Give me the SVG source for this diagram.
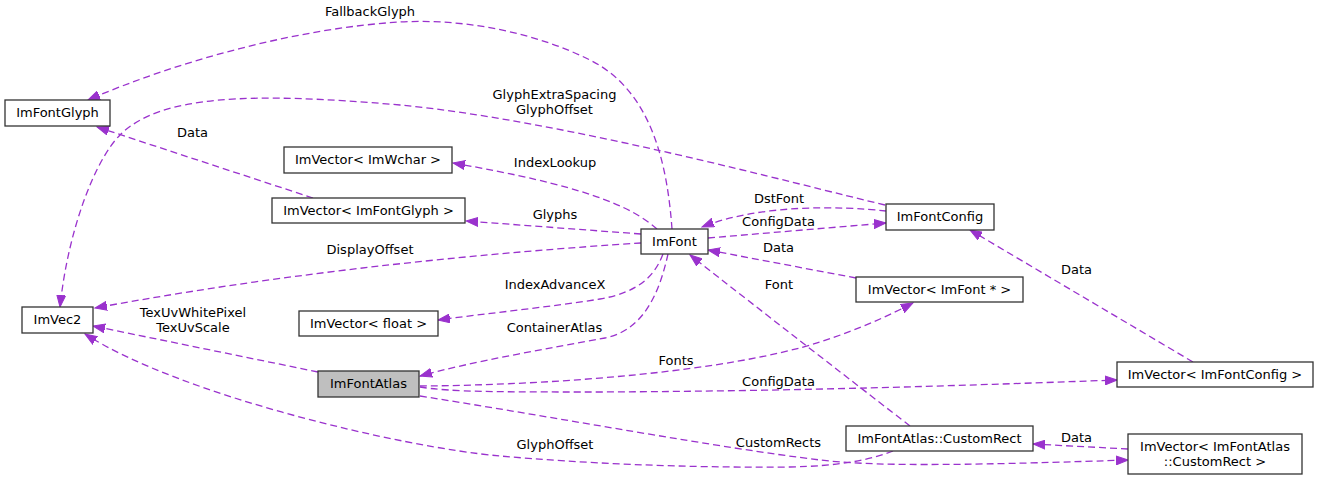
<svg xmlns="http://www.w3.org/2000/svg" width="1319" height="481" viewBox="0 0 1319 481">
  <defs>
    <style>
      .node rect { fill: #ffffff; stroke: #333333; stroke-width: 1.3; }
      .node.current rect { fill: #bfbfbf; }
      .node text, .label { font-family: "DejaVu Sans", "Liberation Sans", sans-serif; font-size: 13px; fill: #000000; text-anchor: middle; }
      .edge { fill: none; stroke: #9a32cd; stroke-width: 1.3; stroke-dasharray: 7,4; marker-end: url(#arrow); }
    </style>
    <marker id="arrow" markerUnits="userSpaceOnUse" markerWidth="13" markerHeight="10" refX="12" refY="5" orient="auto">
      <path d="M0,0.5 L12,5 L0,9.5 Z" fill="#9a32cd" stroke="#9a32cd" stroke-width="1"/>
    </marker>
  </defs>
  <rect width="1319" height="481" fill="#ffffff"/>

  <!-- connectors -->
  <g id="connectors">
    <path class="edge" d="M672,229 C667,160 650,90 590,60 C540,35 470,18 400,22 C300,28 180,60 88,100"/>
    <path class="edge" d="M885,205 C800,185 560,120 400,105 C250,92 160,95 120,135 C95,160 68,230 60,307"/>
    <path class="edge" d="M313,198 L97,127"/>
    <path class="edge" d="M657,229 C630,205 580,185 453,163"/>
    <path class="edge" d="M641,234 L466,221"/>
    <path class="edge" d="M641,243 C500,252 300,270 95,308"/>
    <path class="edge" d="M663,254 C655,275 640,292 600,299 C550,307 490,313 438,320"/>
    <path class="edge" d="M668,254 C660,290 645,330 605,338 C550,348 470,362 420,376"/>
    <path class="edge" d="M886,211 C840,206 760,204 702,227"/>
    <path class="edge" d="M708,238 L886,223"/>
    <path class="edge" d="M856,278 L708,250"/>
    <path class="edge" d="M910,426 C870,395 760,310 690,255"/>
    <path class="edge" d="M1193,362 L970,230"/>
    <path class="edge" d="M318,372 L93,326"/>
    <path class="edge" d="M893,451 C870,460 840,466 790,467 C680,468 580,463 500,456 C400,447 180,395 85,334"/>
    <path class="edge" d="M420,386 C560,385 730,371 820,342 C860,329 890,315 913,303"/>
    <path class="edge" d="M420,387 C450,392 500,392 600,392 C800,391 950,386 1117,380"/>
    <path class="edge" d="M420,396 C560,418 720,448 820,460 C870,466 950,466 1128,460"/>
    <path class="edge" d="M1128,449 L1033,444"/>

    <text class="label" x="370" y="15.5">FallbackGlyph</text>
    <text class="label" x="554.5" y="99">GlyphExtraSpacing</text>
    <text class="label" x="554.5" y="113.5">GlyphOffset</text>
    <text class="label" x="192.5" y="137">Data</text>
    <text class="label" x="555" y="167">IndexLookup</text>
    <text class="label" x="555" y="218.5">Glyphs</text>
    <text class="label" x="370" y="253.5">DisplayOffset</text>
    <text class="label" x="555" y="288.5">IndexAdvanceX</text>
    <text class="label" x="554.5" y="331.5">ContainerAtlas</text>
    <text class="label" x="193" y="317">TexUvWhitePixel</text>
    <text class="label" x="193" y="331.5">TexUvScale</text>
    <text class="label" x="779" y="202.5">DstFont</text>
    <text class="label" x="778.5" y="225.5">ConfigData</text>
    <text class="label" x="778.5" y="252">Data</text>
    <text class="label" x="779" y="288.5">Font</text>
    <text class="label" x="1076.5" y="273.5">Data</text>
    <text class="label" x="676" y="364.5">Fonts</text>
    <text class="label" x="778.5" y="385.5">ConfigData</text>
    <text class="label" x="555" y="448.5">GlyphOffset</text>
    <text class="label" x="778.5" y="446.5">CustomRects</text>
    <text class="label" x="1076.5" y="442">Data</text>
  </g>

  <!-- nodes -->
  <g id="ImFontGlyph" class="node">
    <rect x="5" y="100" width="105" height="26"/>
    <text x="57.5" y="117">ImFontGlyph</text>
  </g>
  <g id="ImVector_ImWchar" class="node">
    <rect x="284" y="147" width="168" height="26"/>
    <text x="368" y="164">ImVector&lt; ImWchar &gt;</text>
  </g>
  <g id="ImVector_ImFontGlyph" class="node">
    <rect x="272" y="198" width="193" height="25"/>
    <text x="368.5" y="215">ImVector&lt; ImFontGlyph &gt;</text>
  </g>
  <g id="ImFont" class="node">
    <rect x="641" y="229" width="67" height="25"/>
    <text x="674.5" y="246">ImFont</text>
  </g>
  <g id="ImFontConfig" class="node">
    <rect x="886" y="204" width="108" height="26"/>
    <text x="940" y="221">ImFontConfig</text>
  </g>
  <g id="ImVector_ImFontPtr" class="node">
    <rect x="856" y="277" width="167" height="25"/>
    <text x="939.5" y="294">ImVector&lt; ImFont * &gt;</text>
  </g>
  <g id="ImVec2" class="node">
    <rect x="22" y="307" width="71" height="26"/>
    <text x="57.5" y="324">ImVec2</text>
  </g>
  <g id="ImVector_float" class="node">
    <rect x="299" y="311" width="139" height="25"/>
    <text x="368.5" y="328">ImVector&lt; float &gt;</text>
  </g>
  <g id="ImFontAtlas" class="node current">
    <rect x="318" y="371" width="101" height="26"/>
    <text x="368.5" y="388">ImFontAtlas</text>
  </g>
  <g id="ImVector_ImFontConfig" class="node">
    <rect x="1117" y="362" width="196" height="25"/>
    <text x="1215" y="379">ImVector&lt; ImFontConfig &gt;</text>
  </g>
  <g id="ImFontAtlas_CustomRect" class="node">
    <rect x="846" y="426" width="187" height="25"/>
    <text x="939.5" y="443">ImFontAtlas::CustomRect</text>
  </g>
  <g id="ImVector_CustomRect" class="node">
    <rect x="1128" y="434" width="174" height="40"/>
    <text x="1215" y="451">ImVector&lt; ImFontAtlas</text>
    <text x="1215" y="465.5">::CustomRect &gt;</text>
  </g>
</svg>
